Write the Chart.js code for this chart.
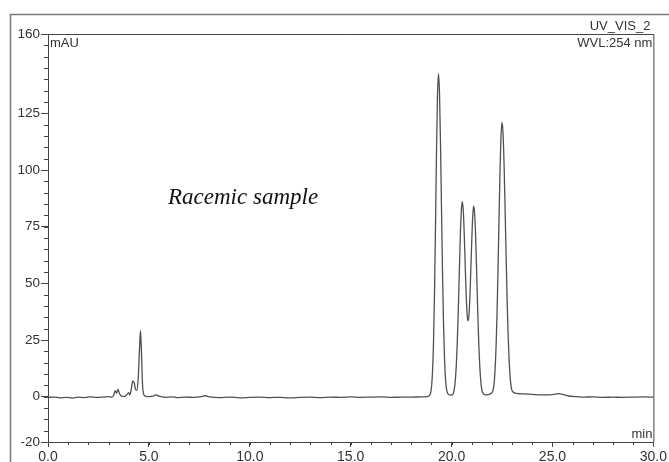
<!DOCTYPE html>
<html>
<head>
<meta charset="utf-8">
<script src="https://cdn.jsdelivr.net/npm/chart.js@4/dist/chart.umd.min.js"></script>
<style>
  html, body { margin: 0; padding: 0; background: #ffffff; }
  #wrap { position: relative; width: 669px; height: 462px; }
</style>
</head>
<body>
<div id="wrap"><canvas id="c" width="669" height="462"></canvas></div>
<script>
// Retention time (min)
const times = [
  0.0, 0.3, 0.6, 0.9, 1.2, 1.5, 1.8, 2.1, 2.4, 2.7, 3.0, 3.15, 3.25, 3.33, 3.40, 3.47, 3.55, 3.65, 3.80, 3.92,
  4.00, 4.06, 4.12, 4.20, 4.26, 4.33, 4.40, 4.47, 4.53, 4.58, 4.63, 4.68, 4.75, 4.85, 5.00, 5.20, 5.35, 5.50,
  5.80, 6.10, 6.40, 6.80, 7.20, 7.60, 7.80, 8.00, 8.50, 9.00, 9.50, 10.0, 10.5, 11.0, 11.5, 12.0, 12.5, 13.0,
  13.5, 14.0, 14.5, 15.0, 15.5, 16.0, 16.5, 17.0, 17.5, 18.0, 18.5, 18.8,
  18.95, 19.00, 19.05, 19.10, 19.15, 19.20, 19.25, 19.30, 19.35, 19.40, 19.45, 19.50, 19.55, 19.60, 19.65,
  19.70, 19.75, 19.85, 19.95, 20.03,
  20.08, 20.13, 20.18, 20.23, 20.28, 20.33, 20.38, 20.43, 20.48, 20.53, 20.58, 20.63, 20.68, 20.73, 20.78,
  20.83, 20.88, 20.93, 20.98, 21.03, 21.08, 21.10, 21.15, 21.20, 21.25, 21.30, 21.35, 21.40, 21.45, 21.50,
  21.55, 21.65, 21.75, 21.85, 21.95,
  22.05, 22.10, 22.15, 22.20, 22.25, 22.30, 22.35, 22.40, 22.45, 22.50, 22.55, 22.60, 22.65, 22.70, 22.75,
  22.80, 22.85, 22.90, 22.95, 23.00, 23.10, 23.30, 23.60, 24.00, 24.50, 25.00, 25.30, 25.50, 25.80, 26.20,
  26.60, 27.00, 27.50, 28.00, 28.50, 29.00, 29.50, 30.00
];
// Absorbance (mAU)
const signal = [
  -0.3, -0.2, -0.5, -0.3, -0.6, -0.2, -0.4, -0.1, -0.3, -0.2, 0.0, -0.2, 0.5, 2.6, 1.6, 3.2, 1.2, 0.2, 0.1, 1.0,
  1.8, 0.8, 3.0, 6.8, 6.5, 3.5, 2.8, 8.0, 20.0, 29.2, 20.0, 6.0, 0.8, 0.1, 0.0, 0.2, 0.8, 0.2,
  -0.3, -0.1, -0.4, -0.2, -0.3, 0.0, 0.4, -0.1, -0.4, -0.2, -0.5, -0.3, -0.2, -0.4, -0.3, -0.5, -0.3, -0.2,
  -0.4, -0.2, -0.3, -0.1, -0.3, -0.2, -0.1, -0.3, -0.2, -0.2, -0.1, 0.0,
  1.3, 3.8, 10.0, 22.4, 43.6, 73.2, 106.0, 132.4, 142.5, 134.3, 112.3, 83.4, 55.0, 32.2, 16.8,
  7.7, 3.2, 1.0, 0.7, 0.8,
  1.3, 3.1, 6.7, 13.2, 23.4, 37.4, 53.8, 69.8, 81.6, 86.0, 81.9, 71.0, 56.5, 43.5, 35.2,
  33.5, 38.5, 49.5, 63.5, 76.4, 83.3, 84.0, 79.7, 68.2, 52.6, 36.5, 22.8, 12.9, 6.6, 3.0,
  1.6, 0.9, 0.8, 1.0, 1.4,
  2.8, 5.3, 11.1, 20.9, 35.7, 55.4, 78.0, 99.5, 115.2, 121.0, 116.2, 102.8, 83.8, 63.0, 43.6,
  27.8, 16.4, 8.9, 4.4, 2.6, 1.8, 1.3, 1.2, 1.0, 0.8, 0.9, 1.3, 1.0, 0.3, 0.0,
  -0.2, -0.1, -0.3, -0.2, -0.3, -0.2, -0.1, -0.2
];
// Axis tick labels
const yTickValues = [-20, 0, 25, 50, 75, 100, 125, 160];
const xTickValues = [0, 5, 10, 15, 20, 25, 30];
const yMinorStep = 5;
const xMinorStep = 1;
// Text annotations
const yUnit = "mAU";
const xUnit = "min";
const channelName = "UV_VIS_2";
const wavelengthLabel = "WVL:254 nm";
const sampleLabel = "Racemic sample";

const AXIS = '#444';
const FONT = '"Liberation Sans", Arial, sans-serif';

const points = times.map((t, i) => ({ x: t, y: signal[i] }));

const decor = {
  id: 'decor',
  afterDraw(chart) {
    const { ctx, chartArea: a, scales } = chart;
    const xs = scales.x, ys = scales.y;
    ctx.save();
    // outer frame
    ctx.strokeStyle = '#777';
    ctx.lineWidth = 1.5;
    ctx.beginPath();
    ctx.moveTo(10.5, 462);
    ctx.lineTo(10.5, 14.5);
    ctx.lineTo(669, 14.5);
    ctx.stroke();
    // plot box top and right
    ctx.strokeStyle = AXIS;
    ctx.lineWidth = 1;
    ctx.beginPath();
    ctx.moveTo(a.left, Math.round(a.top) + 0.5);
    ctx.lineTo(a.right + 0.5, Math.round(a.top) + 0.5);
    ctx.lineTo(a.right + 0.5, a.bottom);
    ctx.stroke();
    // minor ticks
    ctx.beginPath();
    for (let v = ys.min; v <= ys.max + 1e-9; v += yMinorStep) {
      const py = Math.round(ys.getPixelForValue(v)) + 0.5;
      ctx.moveTo(a.left - 4, py);
      ctx.lineTo(a.left, py);
    }
    for (let t = xs.min; t <= xs.max + 1e-9; t += xMinorStep) {
      const px = Math.round(xs.getPixelForValue(t)) + 0.5;
      ctx.moveTo(px, a.bottom);
      ctx.lineTo(px, a.bottom + 3);
    }
    ctx.stroke();
    // texts
    ctx.fillStyle = '#333';
    ctx.font = '13px ' + FONT;
    ctx.textBaseline = 'alphabetic';
    ctx.textAlign = 'left';
    ctx.fillText(yUnit, a.left + 2, a.top + 13);
    ctx.textAlign = 'right';
    ctx.fillText(xUnit, a.right - 1, a.bottom - 4);
    ctx.fillText(channelName, a.right - 3, 30);
    ctx.fillText(wavelengthLabel, a.right - 1, 47);
    ctx.fillStyle = '#111';
    ctx.textAlign = 'left';
    ctx.font = 'italic 23px "Liberation Serif", "Times New Roman", serif';
    ctx.fillText(sampleLabel, 168, 204);
    ctx.restore();
  }
};

new Chart(document.getElementById('c'), {
  type: 'scatter',
  data: {
    datasets: [{
      data: points,
      showLine: true,
      borderColor: '#505050',
      borderWidth: 1.3,
      pointRadius: 0,
      cubicInterpolationMode: 'monotone',
      fill: false
    }]
  },
  options: {
    responsive: false,
    animation: false,
    devicePixelRatio: 1,
    layout: { padding: { top: 34, right: 14, left: 0, bottom: 0 } },
    plugins: { legend: { display: false }, tooltip: { enabled: false } },
    scales: {
      x: {
        type: 'linear',
        min: 0, max: 30,
        afterBuildTicks: s => { s.ticks = xTickValues.map(v => ({ value: v })); },
        afterFit: s => { s.height = 20; },
        grid: { drawOnChartArea: false, drawTicks: true, tickLength: 5, color: AXIS, tickColor: AXIS },
        border: { display: true, color: AXIS, width: 1 },
        ticks: {
          color: '#333', padding: 2, maxRotation: 0, autoSkip: false,
          font: { family: FONT, size: 14 },
          callback: v => Number(v).toFixed(1)
        }
      },
      y: {
        type: 'linear',
        min: -20, max: 160,
        afterBuildTicks: s => { s.ticks = yTickValues.map(v => ({ value: v })); },
        afterFit: s => { s.width = 48; },
        grid: { drawOnChartArea: false, drawTicks: true, tickLength: 7, color: AXIS, tickColor: AXIS },
        border: { display: true, color: AXIS, width: 1 },
        ticks: {
          color: '#333', padding: 1, autoSkip: false,
          font: { family: FONT, size: 13.5 },
          callback: v => String(v)
        }
      }
    }
  },
  plugins: [decor]
});
</script>
</body>
</html>
